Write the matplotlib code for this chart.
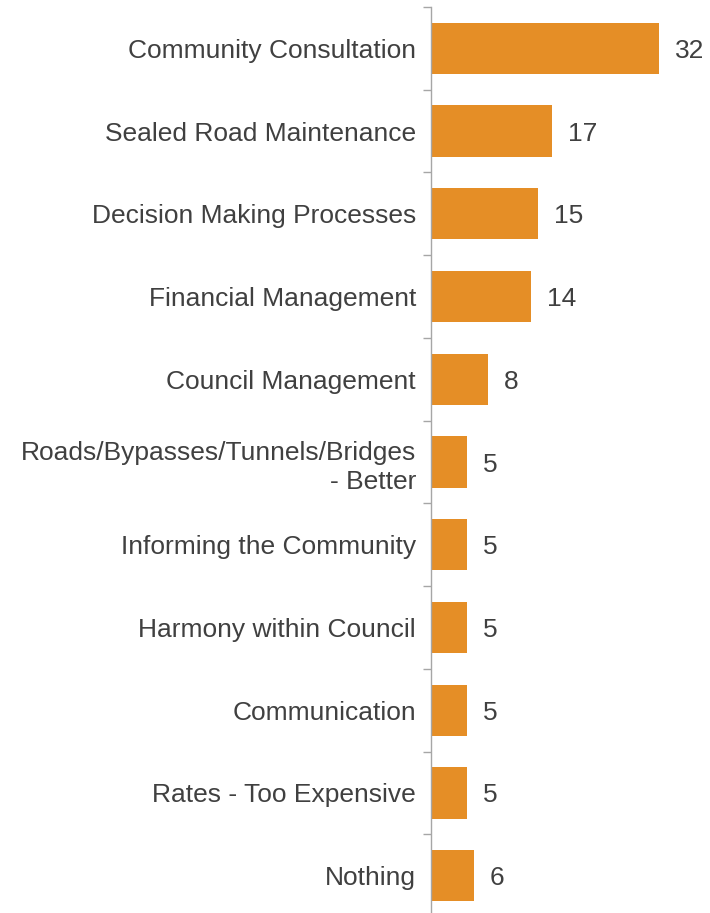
import matplotlib
matplotlib.use("Agg")
import matplotlib.pyplot as plt
import numpy as np

categories = [
    "Community Consultation",
    "Sealed Road Maintenance",
    "Decision Making Processes",
    "Financial Management",
    "Council Management",
    "Roads/Bypasses/Tunnels/Bridges\n- Better",
    "Informing the Community",
    "Harmony within Council",
    "Communication",
    "Rates - Too Expensive",
    "Nothing",
]
values = [32, 17, 15, 14, 8, 5, 5, 5, 5, 5, 6]

bar_color = "#E58E26"
text_color = "#404040"
axis_color = "#A6A6A6"

plt.rcParams["font.family"] = ["Liberation Sans", "DejaVu Sans"]

fig = plt.figure(figsize=(7.10, 9.13), dpi=100)
ax = fig.add_axes([431 / 710, 1 - 7 / 913 - 910 / 913, 285 / 710, 910 / 913])

n = len(categories)
y = np.arange(n)
ax.barh(y, values, height=0.62, color=bar_color, zorder=2)

ax.set_ylim(n - 0.5, -0.5)
ax.set_xlim(0, 40)

for yi, v in zip(y, values):
    ax.text(v + 16 / 7.125, yi, str(v), va="center_baseline", ha="left",
            fontsize=19, color=text_color)

ax.set_yticks(y)
ax.set_yticklabels(categories, fontsize=19, color=text_color, ha="right")
for lab in ax.get_yticklabels():
    lab.set_linespacing(1.3)
ax.tick_params(axis="y", which="major", length=0, pad=10.8)
ax.set_yticks(np.arange(-0.5, n, 1.0), minor=True)
ax.tick_params(axis="y", which="minor", length=6, width=1.0, color=axis_color,
               direction="out")
ax.set_xticks([])

for side in ["top", "right", "bottom"]:
    ax.spines[side].set_visible(False)
ax.spines["left"].set_color(axis_color)
ax.spines["left"].set_linewidth(1.0)

fig.savefig("out.png", dpi=100)
